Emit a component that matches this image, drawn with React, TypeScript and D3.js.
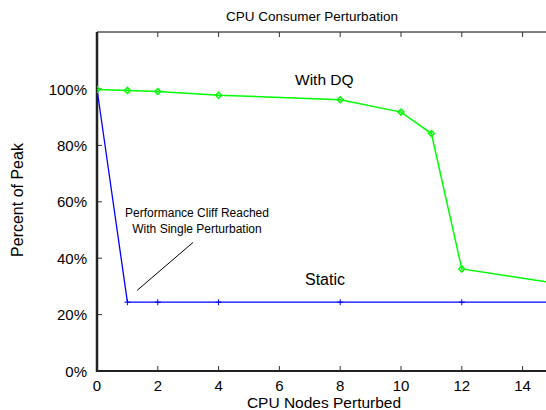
import React from "react";
import * as d3 from "d3";

const dqX = [0, 1, 2, 4, 8, 10, 11, 12, 16];
const dqY = [99.8, 99.5, 99.1, 97.8, 96.2, 91.8, 84.2, 36.2, 29.6];
const staticX = [0, 1, 2, 4, 8, 12, 16];
const staticY = [100, 24.4, 24.4, 24.4, 24.4, 24.4, 24.4];
const xTicks = [0, 2, 4, 6, 8, 10, 12, 14];
const yTicks = [0, 20, 40, 60, 80, 100];
const title = "CPU Consumer Perturbation";
const xTitle = "CPU Nodes Perturbed";
const yTitle = "Percent of Peak";
const noteLines = ["Performance Cliff Reached", "With Single Perturbation"];

export default function App() {
  const W = 546, H = 410;
  const left = 97, bottom = 371, top = 32;
  const x = d3.scaleLinear().domain([0, 16]).range([left, left + 16 * 30.4]);
  const y = d3.scaleLinear().domain([0, 100]).range([bottom, 89]);
  const line = d3.line<[number, number]>().x(d => x(d[0])).y(d => y(d[1]));
  const dq: [number, number][] = dqX.map((v, i) => [v, dqY[i]]);
  const st: [number, number][] = staticX.map((v, i) => [v, staticY[i]]);
  const font = "'Liberation Sans', Arial, Helvetica, sans-serif";
  const green = "#00ff00";
  const blue = "#0000ff";
  const axisCol = "#333";

  return (
    <svg width={W} height={H} style={{ position: "absolute", left: 0, top: 0, background: "#fff" }} fontFamily={font}>
      <defs>
        <clipPath id="plot">
          <rect x={left} y={top} width={W - left} height={bottom - top} />
        </clipPath>
      </defs>
      <rect width={W} height={H} fill="#fff" />
      <line x1={left} x2={W} y1={top} y2={top} stroke="#000" strokeWidth={1} />
      {xTicks.map(t => (
        <g key={"xt" + t}>
          <line x1={x(t)} x2={x(t)} y1={bottom} y2={bottom - 5} stroke={axisCol} strokeWidth={1} />
          <line x1={x(t)} x2={x(t)} y1={top} y2={top + 5} stroke={axisCol} strokeWidth={1} />
          <text x={x(t)} y={391} fontSize={15} textAnchor="middle" fill="#000">{t}</text>
        </g>
      ))}
      {yTicks.map(t => (
        <g key={"yt" + t}>
          <line x1={left} x2={left + 5} y1={y(t)} y2={y(t)} stroke={axisCol} strokeWidth={1} />
          <text x={87} y={y(t) + 5.5} fontSize={15} textAnchor="end" fill="#000">{t + "%"}</text>
        </g>
      ))}
      <line x1={left} x2={left} y1={top} y2={bottom + 1} stroke="#222" strokeWidth={2.5} />
      <line x1={left} x2={W} y1={bottom} y2={bottom} stroke="#222" strokeWidth={2} />

      <g clipPath="url(#plot)">
        <path d={line(st) || ""} fill="none" stroke={blue} strokeWidth={1.3} />
        {st.map((p, i) => (
          <path key={"sp" + i} d={`M${x(p[0]) - 3},${y(p[1])}h6M${x(p[0])},${y(p[1]) - 3}v6`} stroke={blue} strokeWidth={1} />
        ))}
        <path d={line(dq) || ""} fill="none" stroke={green} strokeWidth={1.5} />
        {dq.map((p, i) => (
          <path key={"dp" + i} d={`M${x(p[0]) - 3},${y(p[1])}L${x(p[0])},${y(p[1]) - 3}L${x(p[0]) + 3},${y(p[1])}L${x(p[0])},${y(p[1]) + 3}Z`} fill="none" stroke={green} strokeWidth={1.5} />
        ))}
      </g>

      <text x={312} y={21} fontSize={13.5} textAnchor="middle" fill="#000">{title}</text>
      <text x={324} y={408} fontSize={15.5} textAnchor="middle" fill="#000">{xTitle}</text>
      <text transform="translate(23,200) rotate(-90)" fontSize={16} textAnchor="middle" fill="#000">{yTitle}</text>
      <text x={295} y={85} fontSize={15.5} fill="#000">With DQ</text>
      <text x={305} y={285} fontSize={16} fill="#000">Static</text>
      <text x={197} y={217} fontSize={12} textAnchor="middle" fill="#000">{noteLines[0]}</text>
      <text x={197} y={233} fontSize={12} textAnchor="middle" fill="#000">{noteLines[1]}</text>
      <line x1={x(1.32)} y1={y(28.6)} x2={x(3.16)} y2={y(45.6)} stroke="#000" strokeWidth={1} />
    </svg>
  );
}
